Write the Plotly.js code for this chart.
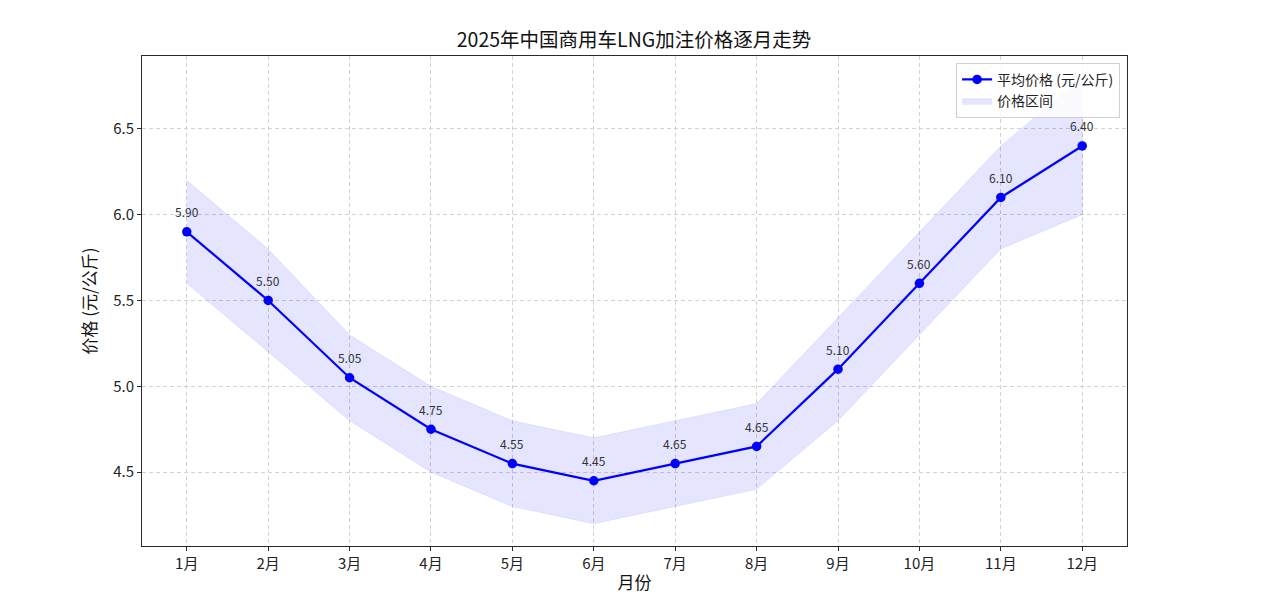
<!DOCTYPE html>
<html>
<head>
<meta charset="utf-8">
<script src="https://cdn.plot.ly/plotly-3.0.1.min.js"></script>
<style>
  html, body { margin: 0; padding: 0; background: #fff; }
  #chart { width: 1268px; height: 594px; }
</style>
</head>
<body>
<div id="chart"></div>
<script>
var months = ['1月', '2月', '3月', '4月', '5月', '6月', '7月', '8月', '9月', '10月', '11月', '12月'];

// average price per month
var avgPrice = [5.90, 5.50, 5.05, 4.75, 4.55, 4.45, 4.55, 4.65, 5.10, 5.60, 6.10, 6.40];

// labels as printed on the chart
var priceLabels = ['5.90', '5.50', '5.05', '4.75', '4.55', '4.45', '4.65', '4.65', '5.10', '5.60', '6.10', '6.40'];

// price range
var lowPrice = [5.60, 5.20, 4.80, 4.50, 4.30, 4.20, 4.30, 4.40, 4.80, 5.30, 5.80, 6.00];
var highPrice = [6.20, 5.80, 5.30, 5.00, 4.80, 4.70, 4.80, 4.90, 5.40, 5.90, 6.40, 6.80];

var yTicks = [4.5, 5.0, 5.5, 6.0, 6.5];

var font = '"Noto Sans CJK SC", "Noto Sans", sans-serif';

// shading
var band = {
  x: months.concat(months.slice().reverse()),
  y: highPrice.concat(lowPrice.slice().reverse()),
  fill: 'toself',
  fillcolor: 'rgba(0,0,255,0.1)',
  line: {color: 'rgba(0,0,255,0.07)', width: 1},
  mode: 'lines',
  name: '价格区间',
  hoverinfo: 'skip',
  type: 'scatter'
};

// line
var avg = {
  x: months,
  y: avgPrice,
  mode: 'lines+markers',
  line: {color: '#0000ff', width: 2.2},
  marker: {color: '#0000ff', size: 9.5},
  name: '平均价格 (元/公斤)',
  type: 'scatter'
};

var labels = months.map(function(m, i) {
  return {
    x: m,
    y: avgPrice[i],
    text: priceLabels[i],
    showarrow: false,
    yshift: 20,
    font: {family: font, size: 12, color: '#333'}
  };
});

var gridStyle = {
  showgrid: true,
  gridcolor: '#d2d2d2',
  griddash: '4px,3px',
  gridwidth: 1,
  showline: true,
  linecolor: '#2a2a2a',
  linewidth: 1,
  mirror: true,
  ticks: 'outside',
  ticklen: 4,
  tickcolor: '#2a2a2a',
  zeroline: false,
  tickfont: {family: font, size: 15, color: '#222'}
};

var layout = {
  width: 1268,
  height: 594,
  margin: {l: 142, r: 141, t: 56, b: 48},
  paper_bgcolor: '#fff',
  plot_bgcolor: '#fff',
  font: {family: font},
  title: {
    text: '2025年中国商用车LNG加注价格逐月走势',
    font: {family: font, size: 19.5, color: '#111'},
    x: 0.5,
    xanchor: 'center',
    y: 0.933,
    yanchor: 'middle'
  },
  xaxis: Object.assign({}, gridStyle, {
    type: 'category',
    range: [-0.55, 11.55],
    title: {text: '月份', font: {family: font, size: 17, color: '#111'}, standoff: 18}
  }),
  yaxis: Object.assign({}, gridStyle, {
    range: [4.07, 6.924],
    tickvals: yTicks,
    tickformat: '.1f',
    title: {text: '价格 (元/公斤)', font: {family: font, size: 17, color: '#111'}, standoff: 12}
  }),
  legend: {
    x: 0.993,
    y: 0.986,
    xanchor: 'right',
    yanchor: 'top',
    traceorder: 'reversed',
    itemwidth: 30,
    tracegroupgap: 0,
    bgcolor: 'rgba(255,255,255,0.85)',
    bordercolor: '#d0d0d0',
    borderwidth: 1,
    font: {family: font, size: 14, color: '#222'}
  },
  annotations: labels,
  showlegend: true
};

Plotly.newPlot('chart', [band, avg], layout, {displayModeBar: false, staticPlot: true});
</script>
</body>
</html>
